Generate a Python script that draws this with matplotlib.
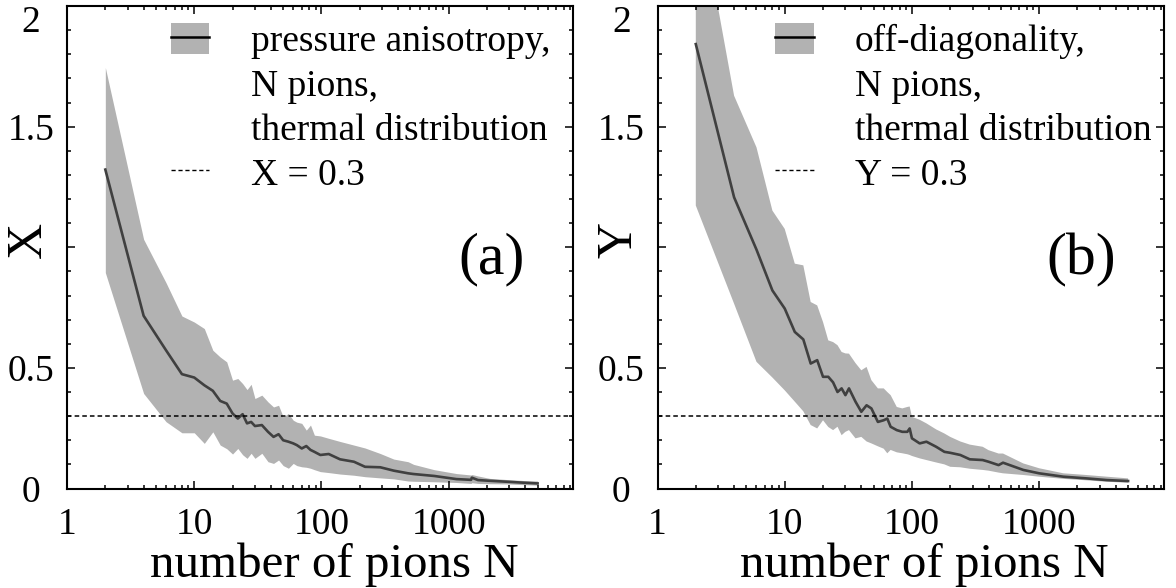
import matplotlib
matplotlib.use('Agg')
import matplotlib.pyplot as plt
from matplotlib.patches import Patch
from matplotlib.lines import Line2D
from matplotlib.legend_handler import HandlerTuple
from matplotlib.ticker import MultipleLocator, LogLocator, NullFormatter

plt.rcParams['font.family'] = ['Liberation Serif', 'DejaVu Serif']

# ---------------- data: panel (a) pressure anisotropy X ----------------
N_a = [2, 4, 6, 8, 10, 12, 14, 16, 18, 20, 22, 24, 26, 28, 30, 34, 38, 42, 46,
       50, 55, 60, 64, 70, 76, 82, 88, 98, 114, 140, 180, 220, 290, 370, 480,
       530, 770, 1150, 1500, 1520, 1700, 2100, 2900, 3900, 5000]
X_mean = [1.322, 0.716, 0.573, 0.474, 0.460, 0.428, 0.405, 0.363, 0.352, 0.311,
          0.290, 0.308, 0.270, 0.276, 0.259, 0.263, 0.235, 0.214, 0.225, 0.200,
          0.194, 0.187, 0.180, 0.166, 0.176, 0.160, 0.152, 0.139, 0.143, 0.121,
          0.111, 0.090, 0.088, 0.074, 0.063, 0.060, 0.052, 0.039, 0.036, 0.045,
          0.035, 0.032, 0.028, 0.024, 0.021]
X_lo = [0.895, 0.394, 0.277, 0.231, 0.231, 0.187, 0.235, 0.180, 0.165, 0.143,
        0.166, 0.140, 0.125, 0.146, 0.125, 0.146, 0.111, 0.104, 0.118, 0.095,
        0.084, 0.104, 0.095, 0.090, 0.088, 0.084, 0.078, 0.070, 0.066, 0.060,
        0.055, 0.049, 0.044, 0.040, 0.031, 0.030, 0.028, 0.025, 0.021, 0.024,
        0.021, 0.020, 0.019, 0.016, 0.014]
X_hi = [1.745, 1.033, 0.853, 0.715, 0.690, 0.663, 0.573, 0.545, 0.525, 0.449,
        0.456, 0.435, 0.410, 0.432, 0.373, 0.387, 0.359, 0.338, 0.345, 0.297,
        0.311, 0.283, 0.275, 0.270, 0.242, 0.263, 0.221, 0.218, 0.208, 0.195,
        0.180, 0.168, 0.145, 0.122, 0.111, 0.100, 0.078, 0.062, 0.056, 0.058,
        0.052, 0.042, 0.037, 0.033, 0.031]

# ---------------- data: panel (b) off-diagonality Y ----------------
N_b = [2, 4, 6, 8, 10, 12, 14, 16, 18, 20, 22, 24, 26, 28, 30, 32, 36, 40, 44,
       48, 54, 60, 64, 68, 76, 84, 92, 96, 100, 115, 130, 155, 180, 200, 240,
       285, 360, 400, 480, 520, 750, 1000, 1550, 2350, 3400, 5000]
Y_mean = [1.842, 1.207, 0.990, 0.821, 0.746, 0.649, 0.618, 0.518, 0.532, 0.463,
          0.463, 0.440, 0.400, 0.415, 0.387, 0.415, 0.360, 0.318, 0.345, 0.332,
          0.276, 0.283, 0.290, 0.256, 0.242, 0.235, 0.235, 0.249, 0.208, 0.187,
          0.194, 0.173, 0.152, 0.148, 0.139, 0.121, 0.118, 0.111, 0.097, 0.107,
          0.077, 0.063, 0.049, 0.042, 0.035, 0.031]
Y_lo = [1.173, 0.766, 0.525, 0.460, 0.407, 0.360, 0.320, 0.263, 0.249, 0.283,
        0.255, 0.242, 0.256, 0.221, 0.235, 0.242, 0.208, 0.214, 0.195, 0.187,
        0.175, 0.165, 0.146, 0.160, 0.150, 0.146, 0.142, 0.139, 0.135, 0.125,
        0.118, 0.108, 0.100, 0.090, 0.088, 0.082, 0.077, 0.074, 0.066, 0.063,
        0.056, 0.049, 0.040, 0.034, 0.028, 0.024]
Y_hi = [2.500, 1.628, 1.414, 1.152, 1.076, 0.932, 0.925, 0.773, 0.759, 0.690,
        0.614, 0.607, 0.594, 0.566, 0.560, 0.559, 0.520, 0.490, 0.504, 0.449,
        0.415, 0.415, 0.400, 0.387, 0.338, 0.332, 0.338, 0.340, 0.297, 0.285,
        0.270, 0.245, 0.228, 0.214, 0.195, 0.182, 0.173, 0.159, 0.145, 0.145,
        0.104, 0.084, 0.063, 0.056, 0.049, 0.042]

threshold = 0.3
x_ticks = [1, 10, 100, 1000]
x_ticklabels = ['1', '10', '100', '1000']
y_ticks = [0, 0.5, 1.0, 1.5, 2.0]
y_ticklabels = ['0', '0.5', '', '1.5', '2']

BAND = '#b2b2b2'
LINE = '#404040'

fig = plt.figure(figsize=(11.76, 5.88), dpi=100)
ax_a = fig.add_axes([0.0570, 0.1692, 0.4303, 0.8206])
ax_b = fig.add_axes([0.5591, 0.1692, 0.4303, 0.8206])

panels = [
    (ax_a, N_a, X_mean, X_lo, X_hi, 'X',
     ['pressure anisotropy,', 'N pions,', 'thermal distribution', 'X = 0.3'],
     '(a)', 0.205),
    (ax_b, N_b, Y_mean, Y_lo, Y_hi, 'Y',
     ['off-diagonality,', 'N pions,', 'thermal distribution', 'Y = 0.3'],
     '(b)', 0.232),
]

for ax, N, m, lo, hi, ylab, labels, tag, legx in panels:
    ax.fill_between(N, lo, hi, color=BAND, lw=0, zorder=1)
    ax.plot(N, m, color=LINE, lw=1.9, zorder=2)
    ax.axhline(threshold, color='black', lw=1.1, ls=(0, (3, 2)), zorder=3)

    ax.set_xscale('log')
    ax.set_xlim(1, 9500)
    ax.set_ylim(0, 2)
    ax.set_xticks(x_ticks, labels=x_ticklabels)
    ax.xaxis.set_minor_locator(LogLocator(base=10, subs=range(2, 10)))
    ax.xaxis.set_minor_formatter(NullFormatter())
    ax.set_yticks(y_ticks, labels=y_ticklabels)
    ax.yaxis.set_minor_locator(MultipleLocator(0.1))

    ax.tick_params(which='both', direction='in', top=True, right=True,
                   width=1.1, colors='black')
    ax.tick_params(which='major', length=6)
    ax.tick_params(which='minor', length=3)
    ax.tick_params(axis='x', which='major', labelsize=27, pad=14)
    ax.tick_params(axis='y', which='major', labelsize=27, pad=26)
    for lbl in ax.get_yticklabels():
        lbl.set_horizontalalignment('center')
    ax.get_yticklabels()[-1].set_verticalalignment('top')
    for s in ax.spines.values():
        s.set_linewidth(1.5)

    ax.set_xlabel('number of pions N', fontsize=35.3)
    ax.xaxis.set_label_coords(0.528, -0.158)
    ax.xaxis.label.set_verticalalignment('center')
    ax.set_ylabel(ylab, fontsize=36)
    ax.yaxis.set_label_coords(-0.075, 0.515)
    ax.yaxis.label.set_verticalalignment('center')

    ax.text(0.838, 0.474, tag, transform=ax.transAxes, fontsize=43,
            ha='center', va='center')

    h_band = (Patch(facecolor=BAND, edgecolor='none'),
              Line2D([], [], color='black', lw=1.8))
    h_blank = Line2D([], [], linestyle='none')
    h_dash = Line2D([], [], color='black', lw=1.0, ls=(0, (3, 2)))
    leg = ax.legend([h_band, h_blank, h_blank, h_dash], labels,
                    handler_map={tuple: HandlerTuple(ndivide=1, pad=0)},
                    loc='upper left', bbox_to_anchor=(legx, 0.965),
                    frameon=False, fontsize=27, borderpad=0, borderaxespad=0,
                    handlelength=1.03, handleheight=0.9, handletextpad=1.1,
                    labelspacing=0.21)

fig.savefig('out.png', dpi=100)
